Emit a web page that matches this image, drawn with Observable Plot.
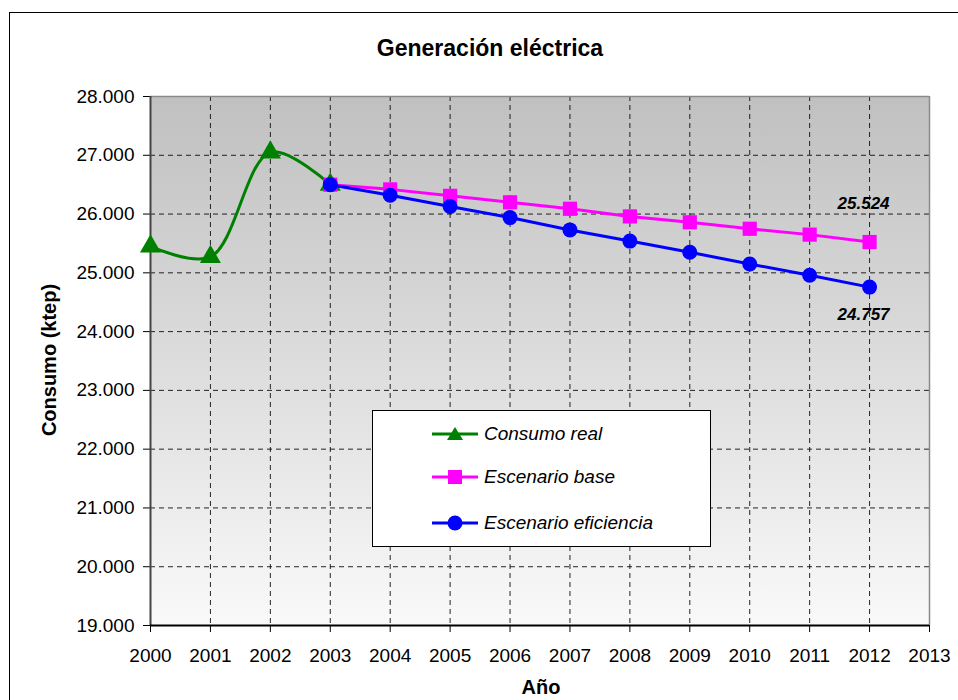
<!DOCTYPE html>
<html><head><meta charset="utf-8">
<script src="https://cdn.jsdelivr.net/npm/d3@7"></script>
<script src="https://cdn.jsdelivr.net/npm/@observablehq/plot@0.6"></script>
<style>
body{margin:0;overflow:hidden;background:#fff;font-family:"Liberation Sans",Arial,sans-serif;}
#frame{position:absolute;left:9px;top:12px;width:1200px;height:1200px;border:1px solid #000;}
#chart{position:absolute;left:0;top:0;}
.lbl{position:absolute;font-weight:bold;color:#000;white-space:nowrap;}
#title{left:490px;top:48px;transform:translate(-50%,-50%);font-size:23px;}
#xlab{left:541px;top:687px;transform:translate(-50%,-50%);font-size:20px;}
#ylab{left:49px;top:360px;transform:translate(-50%,-50%) rotate(-90deg);font-size:20px;}
#legend{position:absolute;left:372px;top:410px;width:337px;height:135px;background:#fff;border:1px solid #000;}
.row{position:absolute;left:59px;height:30px;display:flex;align-items:center;font-style:italic;font-size:19px;}
.row svg{margin-right:6px;}
</style></head>
<body>
<div id="frame"></div>
<div id="chart"></div>
<div id="title" class="lbl">Generación eléctrica</div>
<div id="xlab" class="lbl">Año</div>
<div id="ylab" class="lbl">Consumo (ktep)</div>
<div id="legend"></div>
<script>
const years = [2000,2001,2002,2003,2004,2005,2006,2007,2008,2009,2010,2011,2012,2013];
const yTicks = [19000,20000,21000,22000,23000,24000,25000,26000,27000,28000];
const realYears = [2000,2001,2002,2003];
const realValues = [25450,25270,27050,26500];
const scenYears = [2003,2004,2005,2006,2007,2008,2009,2010,2011,2012];
const baseValues = [26500,26420,26310,26200,26090,25960,25860,25750,25650,25524];
const effValues  = [26500,26320,26130,25940,25730,25540,25350,25150,24960,24757];
const seriesNames = ["Consumo real","Escenario base","Escenario eficiencia"];
const seriesColors = ["#008000","#FF00FF","#0000FF"];

const fmt = d => d3.format(",")(d).replace(/,/g, ".");
const real = realYears.map((y,i)=>({year:y, value:realValues[i]}));
const base = scenYears.map((y,i)=>({year:y, value:baseValues[i]}));
const eff  = scenYears.map((y,i)=>({year:y, value:effValues[i]}));
const lastBase = base[base.length-1], lastEff = eff[eff.length-1];

const svg = Plot.plot({
  width: 958, height: 700,
  marginLeft: 150, marginRight: 29, marginTop: 96, marginBottom: 75,
  style: {background:"transparent", fontFamily:"Liberation Sans, Arial, sans-serif", fontSize:"19px", color:"#000"},
  x: {domain:[2000,2013]},
  y: {domain:[19000,28000]},
  marks: [
    Plot.frame({fill:"url(#bgGrad)", stroke:null}),
    Plot.gridX(years.slice(1,-1), {stroke:"#000", strokeOpacity:0.85, strokeDasharray:"5,4"}),
    Plot.gridY(yTicks.slice(1,-1), {stroke:"#000", strokeOpacity:0.85, strokeDasharray:"5,4"}),
    Plot.ruleY([28000], {stroke:"#8a8a8a", strokeWidth:1.5}),
    Plot.ruleX([2013], {stroke:"#8a8a8a", strokeWidth:1.5}),
    Plot.axisX({ticks: years, tickSize:7, tickPadding:16, tickFormat:d=>String(d), label:null}),
    Plot.axisY({ticks: yTicks, tickSize:7, tickPadding:9, tickFormat:fmt, label:null}),
    Plot.ruleX([2000], {stroke:"#444", strokeWidth:2}),
    Plot.ruleY([19000], {stroke:"#000", strokeWidth:2}),
    Plot.line(real, {x:"year", y:"value", stroke:seriesColors[0], strokeWidth:3, curve:"catmull-rom"}),
    Plot.dot(real, {x:"year", y:"value", symbol:"triangle", r:7.8, fill:seriesColors[0], stroke:null}),
    Plot.line(base, {x:"year", y:"value", stroke:seriesColors[1], strokeWidth:3}),
    Plot.dot(base, {x:"year", y:"value", symbol:"square", r:8, fill:seriesColors[1], stroke:null}),
    Plot.line(eff, {x:"year", y:"value", stroke:seriesColors[2], strokeWidth:3}),
    Plot.dot(eff, {x:"year", y:"value", symbol:"circle", r:7.5, fill:seriesColors[2], stroke:null}),
    Plot.text([lastBase], {x:"year", y:"value", text:d=>fmt(d.value), dx:-6, dy:-38, fontSize:17, fontWeight:"bold", fontStyle:"italic", fill:"#000"}),
    Plot.text([lastEff], {x:"year", y:"value", text:d=>fmt(d.value), dx:-6, dy:27, fontSize:17, fontWeight:"bold", fontStyle:"italic", fill:"#000"})
  ]
});
d3.select(svg).insert("defs", ":first-child").html(
  '<linearGradient id="bgGrad" x1="0" y1="0" x2="0" y2="1">' +
  '<stop offset="0" stop-color="#c0c0c0"/><stop offset="1" stop-color="#f9f9f9"/></linearGradient>');
document.getElementById("chart").appendChild(svg);

// legend
const legend = document.getElementById("legend");
const symbols = [
  '<path d="M23,2 L31,15 L15,15 Z" fill="#008000"/>',
  '<rect x="16" y="2" width="14" height="14" fill="#FF00FF"/>',
  '<circle cx="23" cy="9" r="7.5" fill="#0000FF"/>'
];
const rowTops = [8, 51, 97];
seriesNames.forEach((name,i)=>{
  const row = document.createElement("div");
  row.className = "row";
  row.style.top = rowTops[i] + "px";
  row.innerHTML = `<svg width="46" height="18"><line x1="0" x2="46" y1="9" y2="9" stroke="${seriesColors[i]}" stroke-width="3"/>${symbols[i]}</svg><span>${name}</span>`;
  legend.appendChild(row);
});
</script>
</body></html>
